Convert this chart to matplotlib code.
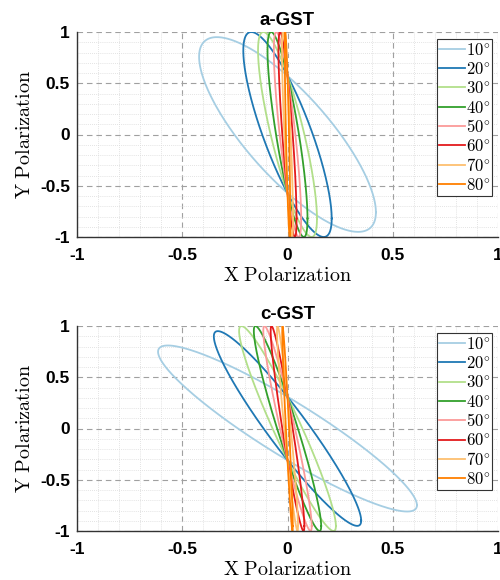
import numpy as np
import matplotlib
matplotlib.use("Agg")
import matplotlib.pyplot as plt
from matplotlib.ticker import MultipleLocator

plt.rcParams['axes.unicode_minus'] = False
plt.rcParams['mathtext.fontset'] = 'cm'

# ---- data ----
angles = [10, 20, 30, 40, 50, 60, 70, 80]
legend_labels = [r'$%d^{\circ}$' % a for a in angles]
colors = ['#a6cee3', '#1f78b4', '#b2df8a', '#33a02c',
          '#fb9a99', '#e31a1c', '#fdbf6f', '#ff7f00']

# ellipse parameters: x amplitude, y amplitude, relative phase (deg)
a_x_amp = [0.42, 0.21, 0.14, 0.095, 0.065, 0.043, 0.026, 0.013]
a_y_amp = [0.95, 1.0, 1.0, 1.0, 1.0, 1.0, 1.0, 1.0]
a_phase = [37.0, 35.0, 35.0, 35.0, 35.0, 35.0, 35.0, 35.0]

c_x_amp = [0.615, 0.35, 0.23, 0.16, 0.115, 0.08, 0.05, 0.025]
c_y_amp = [0.81, 0.95, 1.0, 1.0, 1.0, 1.0, 1.0, 1.0]
c_phase = [22.5, 19.0, 18.0, 18.0, 18.0, 18.0, 18.0, 18.0]

titles = ['a-GST', 'c-GST']
tick_vals = [-1, -0.5, 0, 0.5, 1]
tick_labels = ['-1', '-0.5', '0', '0.5', '1']

t = np.linspace(0, 2 * np.pi, 600)

fig = plt.figure(figsize=(5.0, 5.8), dpi=100)
W, H = 500.0, 580.0
ax_left, ax_right = 77, 498
axes_px = [(32, 237), (326, 531)]

datasets = [(a_x_amp, a_y_amp, a_phase), (c_x_amp, c_y_amp, c_phase)]

for i, (top, bot) in enumerate(axes_px):
    ax = fig.add_axes([ax_left / W, 1 - bot / H, (ax_right - ax_left) / W, (bot - top) / H])
    xa, ya, ph = datasets[i]
    for k in range(len(angles)):
        d = np.deg2rad(ph[k])
        x = xa[k] * np.cos(t)
        y = -ya[k] * np.cos(t - d)
        ax.plot(x, y, color=colors[k], lw=1.3, label=legend_labels[k])
    ax.set_xlim(-1, 1)
    ax.set_ylim(-1, 1)
    ax.set_xticks(tick_vals)
    ax.set_xticklabels(tick_labels)
    ax.set_yticks(tick_vals)
    ax.set_yticklabels(tick_labels)
    ax.xaxis.set_minor_locator(MultipleLocator(0.1))
    ax.yaxis.set_minor_locator(MultipleLocator(0.1))
    ax.grid(which='major', linestyle=(0, (5, 3.5)), color='#a0a0a0', lw=0.8)
    ax.grid(which='minor', linestyle=(0, (1, 1.5)), color='#dadada', lw=0.6)
    ax.set_axisbelow(True)
    for s in ['top', 'right']:
        ax.spines[s].set_visible(False)
    for s in ['left', 'bottom']:
        ax.spines[s].set_color('#333333')
        ax.spines[s].set_linewidth(1.0)
    ax.tick_params(which='both', length=0)
    ax.tick_params(axis='x', pad=8)
    ax.tick_params(axis='y', pad=5)
    for lab in ax.get_xticklabels() + ax.get_yticklabels():
        lab.set_fontfamily('Liberation Sans')
        lab.set_fontweight('bold')
        lab.set_fontsize(12.5)
    ax.set_title(titles[i], fontfamily='Liberation Sans', fontweight='bold',
                 fontsize=13.5, pad=5)
    ax.set_xlabel(r'$\mathrm{X\ Polarization}$', fontsize=14.5, labelpad=2)
    ax.set_ylabel(r'$\mathrm{Y\ Polarization}$', fontsize=14.5, labelpad=4)
    leg = ax.legend(loc='upper left', bbox_to_anchor=(437 / W, 1 - (top + 7) / H),
                    bbox_transform=fig.transFigure, fontsize=12,
                    handlelength=1.55, handletextpad=0.1, labelspacing=0.08,
                    borderpad=0.1, borderaxespad=0, fancybox=False,
                    framealpha=1, edgecolor='#333333')
    leg.get_frame().set_linewidth(0.8)
    for line in leg.get_lines():
        line.set_linewidth(1.3)

fig.savefig('out.png', dpi=100)
